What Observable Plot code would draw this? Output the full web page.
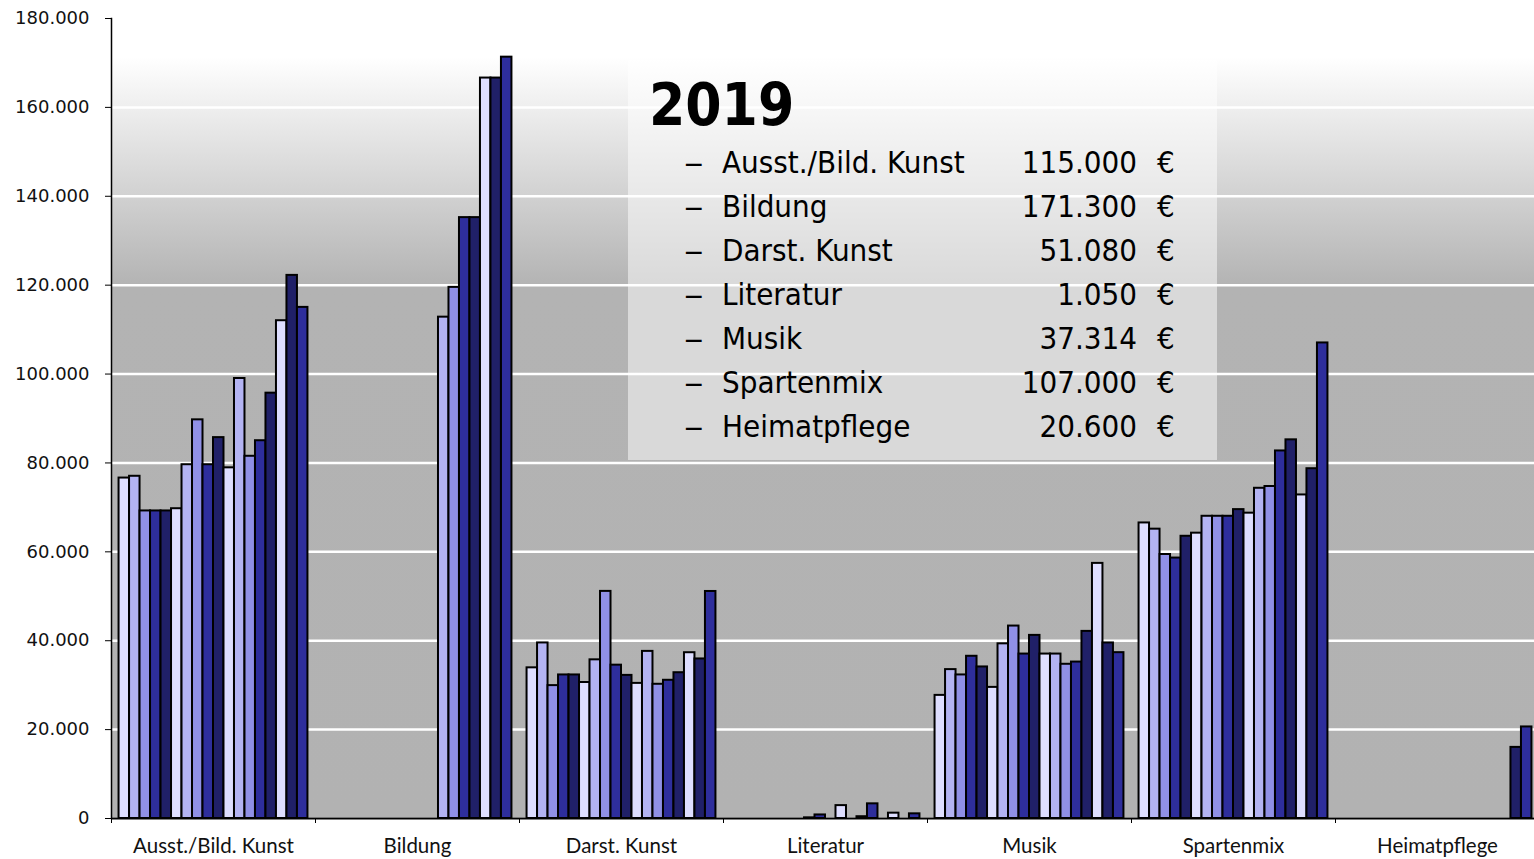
<!DOCTYPE html>
<html>
<head>
<meta charset="utf-8">
<script src="https://cdn.jsdelivr.net/npm/d3@7"></script>
<script src="https://cdn.jsdelivr.net/npm/@observablehq/plot@0.6"></script>
<style>
  html, body { margin: 0; padding: 0; background: #fff; overflow: hidden; }
  #wrap { position: relative; width: 1534px; height: 859px; overflow: hidden; }
  #chart svg { display: block; }
  #legend {
    position: absolute; left: 628px; top: 60px; width: 589px; height: 400px;
    background: rgba(255,255,255,0.5);
    font-family: "DejaVu Sans Condensed", "DejaVu Sans", sans-serif;
    font-stretch: condensed; color: #000;
  }
  #legend .title {
    position: absolute; left: 21px; top: 11px; font-size: 58px; font-weight: bold;
    line-height: normal;
  }
  #legend .row { position: absolute; left: 0; width: 589px; height: 44px; line-height: 44px; font-size: 31px; }
  #legend .dash { position: absolute; left: 56px; transform: scaleX(1.4); transform-origin: left center; }
  #legend .name { position: absolute; left: 94px; }
  #legend .val { position: absolute; right: 80px; text-align: right; }
  #legend .eur { position: absolute; left: 529px; }
</style>
</head>
<body>
<div id="wrap"><div id="chart"></div><div id="legend"></div></div>
<script>
// ---- Data ----
const categories = ["Ausst./Bild. Kunst", "Bildung", "Darst. Kunst", "Literatur", "Musik", "Spartenmix", "Heimatpflege"];
const years = ["2002","2003","2004","2005","2006","2007","2008","2009","2010","2011","2012","2013","2014","2015","2016","2017","2018","2019"];

const ausstBildKunst = [76600, 77000, 69200, 69200, 69200, 69700, 79600, 89700, 79600, 85700, 78900, 99000, 81500, 85000, 95700, 112000, 122200, 115000];
const bildung        = [null, null, null, null, null, null, null, null, null, null, null, 112800, 119500, 135200, 135200, 166600, 166600, 171300];
const darstKunst     = [33900, 39500, 29900, 32300, 32300, 30600, 35700, 51100, 34500, 32200, 30400, 37600, 30200, 31100, 32800, 37300, 35900, 51080];
const literatur      = [null, null, null, null, null, null, null, 150, 800, null, 2900, null, 400, 3300, null, 1200, null, 1050];
const musik          = [27700, 33500, 32300, 36500, 34100, 29500, 39300, 43300, 37000, 41200, 37000, 37000, 34700, 35200, 42100, 57400, 39500, 37314];
const spartenmix     = [66500, 65100, 59400, 58600, 63500, 64200, 68000, 68000, 68000, 69500, 68700, 74300, 74700, 82700, 85200, 72800, 78700, 107000];
const heimatpflege   = [null, null, null, null, null, null, null, null, null, null, null, null, null, null, null, null, 16000, 20600];

const seriesByCategory = [ausstBildKunst, bildung, darstKunst, literatur, musik, spartenmix, heimatpflege];

const yearColors = ["#DEDEFF","#B3B3F2","#9090E6","#2E2E9C","#202068",
                    "#DEDEFF","#B3B3F2","#9090E6","#2E2E9C","#202068",
                    "#DEDEFF","#B3B3F2","#9090E6","#2E2E9C","#202068",
                    "#DEDEFF","#202068","#2E2E9C"];

const yTicks = [0, 20000, 40000, 60000, 80000, 100000, 120000, 140000, 160000, 180000];
const legendYear = "2019";

// ---- Build table ----
const rows = [];
categories.forEach((c, ci) => {
  seriesByCategory[ci].forEach((v, yi) => {
    if (v != null) rows.push({cat: c, year: years[yi], value: v});
  });
});

const de = d3.formatLocale({decimal: ",", thousands: ".", grouping: [3], currency: ["", " €"]});
const fmt = de.format(",d");

const W = 1539, H = 859, ML = 111, MR = 0;
const step = (W - ML - MR) / categories.length;

const chart = Plot.plot({
  width: W, height: H,
  marginLeft: ML, marginRight: MR, marginTop: 18, marginBottom: 41,
  style: {background: "transparent", maxWidth: "none", overflow: "visible", fontFamily: "DejaVu Sans, sans-serif"},
  fx: {domain: categories, padding: 0, label: null, round: false},
  x: {domain: years, paddingInner: 0, paddingOuter: 0.72, axis: null, round: false},
  y: {domain: [0, 180000], label: null},
  color: {domain: years, range: yearColors},
  marks: [
    Plot.frame({fill: "url(#bgGrad)", stroke: null, shapeRendering: "crispEdges"}),
    Plot.gridY(yTicks, {stroke: "white", strokeOpacity: 1, strokeWidth: 2.5}),
    Plot.barY(rows, {fx: "cat", x: "year", y: "value", fill: "year", stroke: "black", strokeWidth: 2, inset: 0}),
    Plot.ruleY([0], {stroke: "black", strokeWidth: 2}),
    Plot.frame({anchor: "left", stroke: "black", strokeWidth: 1.5, facetAnchor: "left"}),
    Plot.axisY(yTicks, {tickSize: 6, tickPadding: 16, tickFormat: fmt, fontSize: 18, stroke: "black", fill: "#111"}),
    Plot.axisFx({anchor: "bottom", tickSize: 0, tickPadding: 20, fontSize: 20.5, fontFamily: "Lato, sans-serif", fill: "#111"}),
    Plot.axisFx({anchor: "bottom", tickSize: 5, tickFormat: () => "", dx: -step / 2, stroke: "black"})
  ]
});

// gradient definition for plot background
const ns = "http://www.w3.org/2000/svg";
const defs = document.createElementNS(ns, "defs");
defs.innerHTML = `<linearGradient id="bgGrad" x1="0" y1="0" x2="0" y2="1">
  <stop offset="0" stop-color="#FFFFFF"/>
  <stop offset="0.048" stop-color="#FFFFFF"/>
  <stop offset="0.335" stop-color="#B3B3B3"/>
  <stop offset="1" stop-color="#B2B2B2"/>
</linearGradient>`;
chart.insertBefore(defs, chart.firstChild);
document.getElementById("chart").appendChild(chart);

// ---- Legend box ----
const legend = document.getElementById("legend");
const t = document.createElement("div");
t.className = "title"; t.textContent = legendYear;
legend.appendChild(t);
const yi = years.indexOf(legendYear);
categories.forEach((c, i) => {
  const r = document.createElement("div");
  r.className = "row";
  r.style.top = (80 + 44 * i) + "px";
  const v = seriesByCategory[i][yi];
  r.innerHTML = `<span class="dash">–</span><span class="name">${c}</span><span class="val">${fmt(v)}</span><span class="eur">€</span>`;
  legend.appendChild(r);
});
</script>
</body>
</html>
